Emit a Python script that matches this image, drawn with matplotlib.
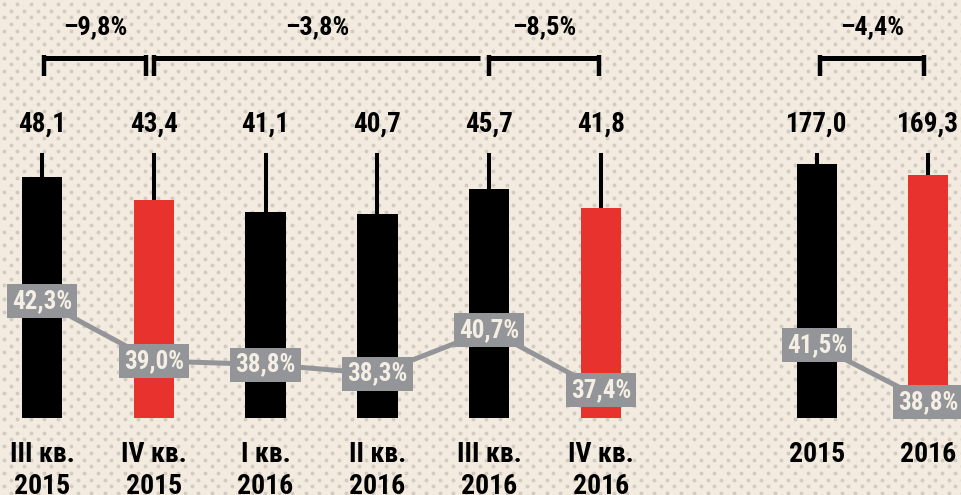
import matplotlib
matplotlib.use("Agg")
import matplotlib.pyplot as plt
import numpy as np
from matplotlib import font_manager as fm
from matplotlib.transforms import blended_transform_factory as blend

# ---------------- data ----------------
q_labels_1 = ["III кв.", "IV кв.", "I кв.", "II кв.", "III кв.", "IV кв."]
q_labels_2 = ["2015", "2015", "2016", "2016", "2016", "2016"]
q_values = [48.1, 43.4, 41.1, 40.7, 45.7, 41.8]
q_value_text = ["48,1", "43,4", "41,1", "40,7", "45,7", "41,8"]
q_share = [42.3, 39.0, 38.8, 38.3, 40.7, 37.4]
q_share_text = ["42,3%", "39,0%", "38,8%", "38,3%", "40,7%", "37,4%"]
q_colors = ["black", "red", "black", "black", "black", "red"]

a_labels = ["2015", "2016"]
a_values = [177.0, 169.3]
a_value_text = ["177,0", "169,3"]
a_share = [41.5, 38.8]
a_share_text = ["41,5%", "38,8%"]
a_colors = ["black", "red"]

q_changes = ["\u20139,8%", "\u20133,8%", "\u20138,5%"]
q_change_spans = [(0, 1), (1, 4), (4, 5)]
a_changes = ["\u20134,4%"]
a_change_spans = [(0, 1)]

# ---------------- style ----------------
BG = "#f3ebdf"
DOT = "#d2cbc1"
RED = "#e8322d"
GRAY = "#939598"
COL = {"black": "#000000", "red": RED}

names = {f.name for f in fm.fontManager.ttflist}
FONT = "Roboto"
scale = 0.88
for cand, sc in [("Liberation Sans Narrow", 1.0), ("Roboto Condensed", 1.0), ("Open Sans Condensed", 1.0)]:
    if cand in names:
        FONT, scale = cand, sc
        break
plt.rcParams["font.family"] = [FONT, "DejaVu Sans"]

W, H = 961, 495
fig = plt.figure(figsize=(W / 100, H / 100), dpi=100, facecolor=BG)

# dotted background
bg = fig.add_axes([0, 0, 1, 1], zorder=0)
bg.set_xlim(0, W)
bg.set_ylim(H, 0)
bg.axis("off")
a_sp, b_sp = 13.4, 6.7
xs, ys = [], []
for j, yy in enumerate(np.arange(4, H + 5, b_sp)):
    off = 0 if j % 2 == 0 else a_sp / 2
    for xx in np.arange(4 + off, W + 5, a_sp):
        xs.append(xx)
        ys.append(yy)
bg.scatter(xs, ys, s=8, c=DOT, linewidths=0)

BASE = 418.3  # baseline pixel from top


def px_axes(x0, x1):
    return fig.add_axes([x0 / W, (H - BASE) / H, (x1 - x0) / W, BASE / H], zorder=2)


def fy(ypix):
    return (BASE - ypix) / BASE


def draw_group(ax, axl, n, values, vtext, share, stext, colors, labels1, labels2,
               changes, spans, ytop, lim_line, gaps):
    ax.set_facecolor("none")
    ax.axis("off")
    ax.set_ylim(0, ytop)
    x = np.arange(n)
    ax.bar(x, values, width=0.36, color=[COL[c] for c in colors], zorder=2)
    tr = blend(ax.transData, ax.transAxes)
    for i in range(n):
        ax.axvline(x[i], ymin=values[i] / ytop, ymax=fy(155), color="black", lw=2.9, zorder=1)
        ax.text(x[i], fy(132), vtext[i], transform=tr, ha="center", va="baseline",
                fontsize=19.5 * scale, fontweight="bold", color="black")
        ax.text(x[i], fy(461.5), labels1[i], transform=tr, ha="center", va="baseline",
                fontsize=20 * scale, fontweight="bold", color="black")
        if labels2 is not None:
            ax.text(x[i], fy(494.5), labels2[i], transform=tr, ha="center", va="baseline",
                    fontsize=20 * scale, fontweight="bold", color="black")
    # brackets
    for k, ((s, e), txt) in enumerate(zip(spans, changes)):
        xl = x[s] + gaps[k][0]
        xr = x[e] + gaps[k][1]
        ax.plot([xl, xr], [fy(57.5)] * 2, transform=tr, color="black", lw=3.6,
                solid_capstyle="butt", clip_on=False)
        ax.plot([xl, xl], [fy(55.2), fy(76)], transform=tr, color="black", lw=3.2,
                solid_capstyle="butt", clip_on=False)
        if gaps[k][2]:
            ax.plot([xr, xr], [fy(55.2), fy(76)], transform=tr, color="black", lw=3.2,
                    solid_capstyle="butt", clip_on=False)
        ax.text((xl + xr) / 2, fy(34), txt, transform=tr, ha="center", va="baseline",
                fontsize=19 * scale, fontweight="bold", color="black")
    # share line
    axl.set_ylim(*lim_line)
    axl.set_facecolor("none")
    axl.axis("off")
    axl.plot(x, share, color=GRAY, lw=3.6, zorder=3, solid_capstyle="butt")
    for i in range(n):
        axl.text(x[i], share[i], stext[i], ha="center", va="center",
                 fontsize=18 * scale, fontweight="bold", color="#f4eee4", zorder=4,
                 bbox=dict(boxstyle="square,pad=0.2", fc=GRAY, ec="none"))


# quarterly group
axq = px_axes(0, 700)
axq.set_xlim(-42 / 111.8, (700 - 42) / 111.8)
axq_l = axq.twinx()
axq_l.set_xlim(axq.get_xlim())
draw_group(axq, axq_l, 6, q_values, q_value_text, q_share, q_share_text, q_colors,
           q_labels_1, q_labels_2, q_changes, q_change_spans,
           BASE / 5.023, (35.84, 58.875),
           [(0.02, -0.07, True), (0.0, -0.08, False), (0.0, -0.02, True)])

# annual group
axa = px_axes(700, 961)
axa.set_xlim((700 - 817) / 111.0, (961 - 817) / 111.0)
axa_l = axa.twinx()
axa_l.set_xlim(axa.get_xlim())
draw_group(axa, axa_l, 2, a_values, a_value_text, a_share, a_share_text, a_colors,
           a_labels, None, a_changes, a_change_spans,
           BASE / 1.437, (38.026, 57.85),
           [(0.03, -0.04, True)])

fig.savefig("out.png", dpi=100, facecolor=BG)
